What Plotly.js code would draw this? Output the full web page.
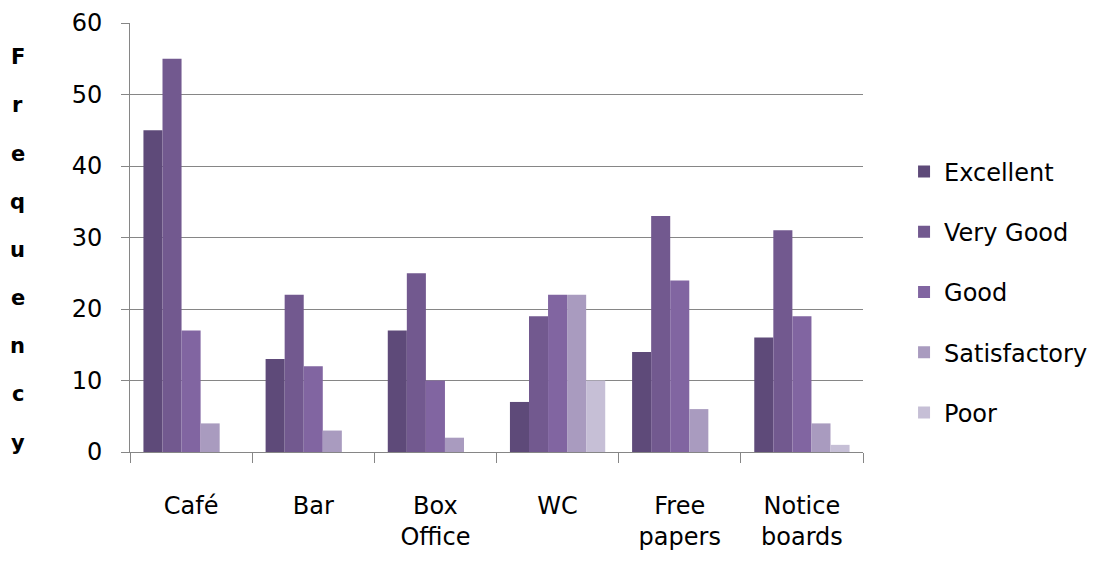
<!DOCTYPE html>
<html>
<head>
<meta charset="utf-8">
<script src="https://cdn.plot.ly/plotly-3.0.1.min.js"></script>
<style>html,body{margin:0;padding:0;background:#fff;}#chart{width:1107px;height:561px;}</style>
</head>
<body>
<div id="chart"></div>
<script>
const categories = ["Café", "Bar", "Box Office", "WC", "Free papers", "Notice boards"];
const tickLabels = ["Café", "Bar", "Box<br>Office", "WC", "Free<br>papers", "Notice<br>boards"];
const seriesNames = ["Excellent", "Very Good", "Good", "Satisfactory", "Poor"];
const excellent = [45, 13, 17, 7, 14, 16];
const veryGood = [55, 22, 25, 19, 33, 31];
const good = [17, 12, 10, 22, 24, 19];
const satisfactory = [4, 3, 2, 22, 6, 4];
const poor = [0, 0, 0, 10, 0, 1];
const yTitle = "Frequency";

const seriesValues = [excellent, veryGood, good, satisfactory, poor];
const colors = ["#5e4a79", "#72598f", "#8165a1", "#a99bbf", "#c6bfd6"];
const FONT = "DejaVu Sans, sans-serif";

const traces = seriesValues.map((vals, i) => ({
  type: "bar",
  name: seriesNames[i],
  x: categories,
  y: vals,
  marker: {color: colors[i], line: {width: 0}},
  legendgroup: "g" + i,
  hoverinfo: "x+y+name"
}));

const letters = yTitle.split("");
const annotations = letters.map((ch, i) => ({
  text: ch,
  xref: "paper", yref: "paper",
  x: -0.153, y: 0.92 - i * (0.898 / (letters.length - 1)),
  xanchor: "center", yanchor: "middle",
  showarrow: false,
  font: {family: FONT, size: 21, color: "#000", weight: "bold"}
}));

const layout = {
  width: 1107, height: 561,
  margin: {l: 130, r: 244, t: 23, b: 109, autoexpand: false},
  paper_bgcolor: "#fff", plot_bgcolor: "#fff",
  barmode: "group", bargap: 0.22, bargroupgap: 0,
  font: {family: FONT, size: 24, color: "#000"},
  showlegend: true,
  legend: {
    x: 1.056, xanchor: "left", y: 0.373, yanchor: "middle",
    font: {family: FONT, size: 24, color: "#000"},
    tracegroupgap: 26, itemwidth: 30
  },
  xaxis: {
    type: "category",
    tickvals: categories, ticktext: tickLabels,
    showline: true, linecolor: "#868686", linewidth: 1,
    ticks: "outside", tickson: "boundaries", ticklen: 10, tickcolor: "#868686",
    ticklabelstandoff: 32,
    showgrid: false, zeroline: false,
    tickfont: {family: FONT, size: 24, color: "#000"}
  },
  yaxis: {
    range: [0, 60], dtick: 10, tick0: 0,
    showline: true, linecolor: "#868686", linewidth: 1,
    ticks: "outside", ticklen: 8, tickcolor: "#868686",
    showgrid: true, gridcolor: "#868686", gridwidth: 1,
    zeroline: false,
    tickfont: {family: FONT, size: 24, color: "#000"},
    ticklabelstandoff: 14
  },
  annotations: annotations
};

Plotly.newPlot("chart", traces, layout, {displayModeBar: false, staticPlot: true});
</script>
</body>
</html>
